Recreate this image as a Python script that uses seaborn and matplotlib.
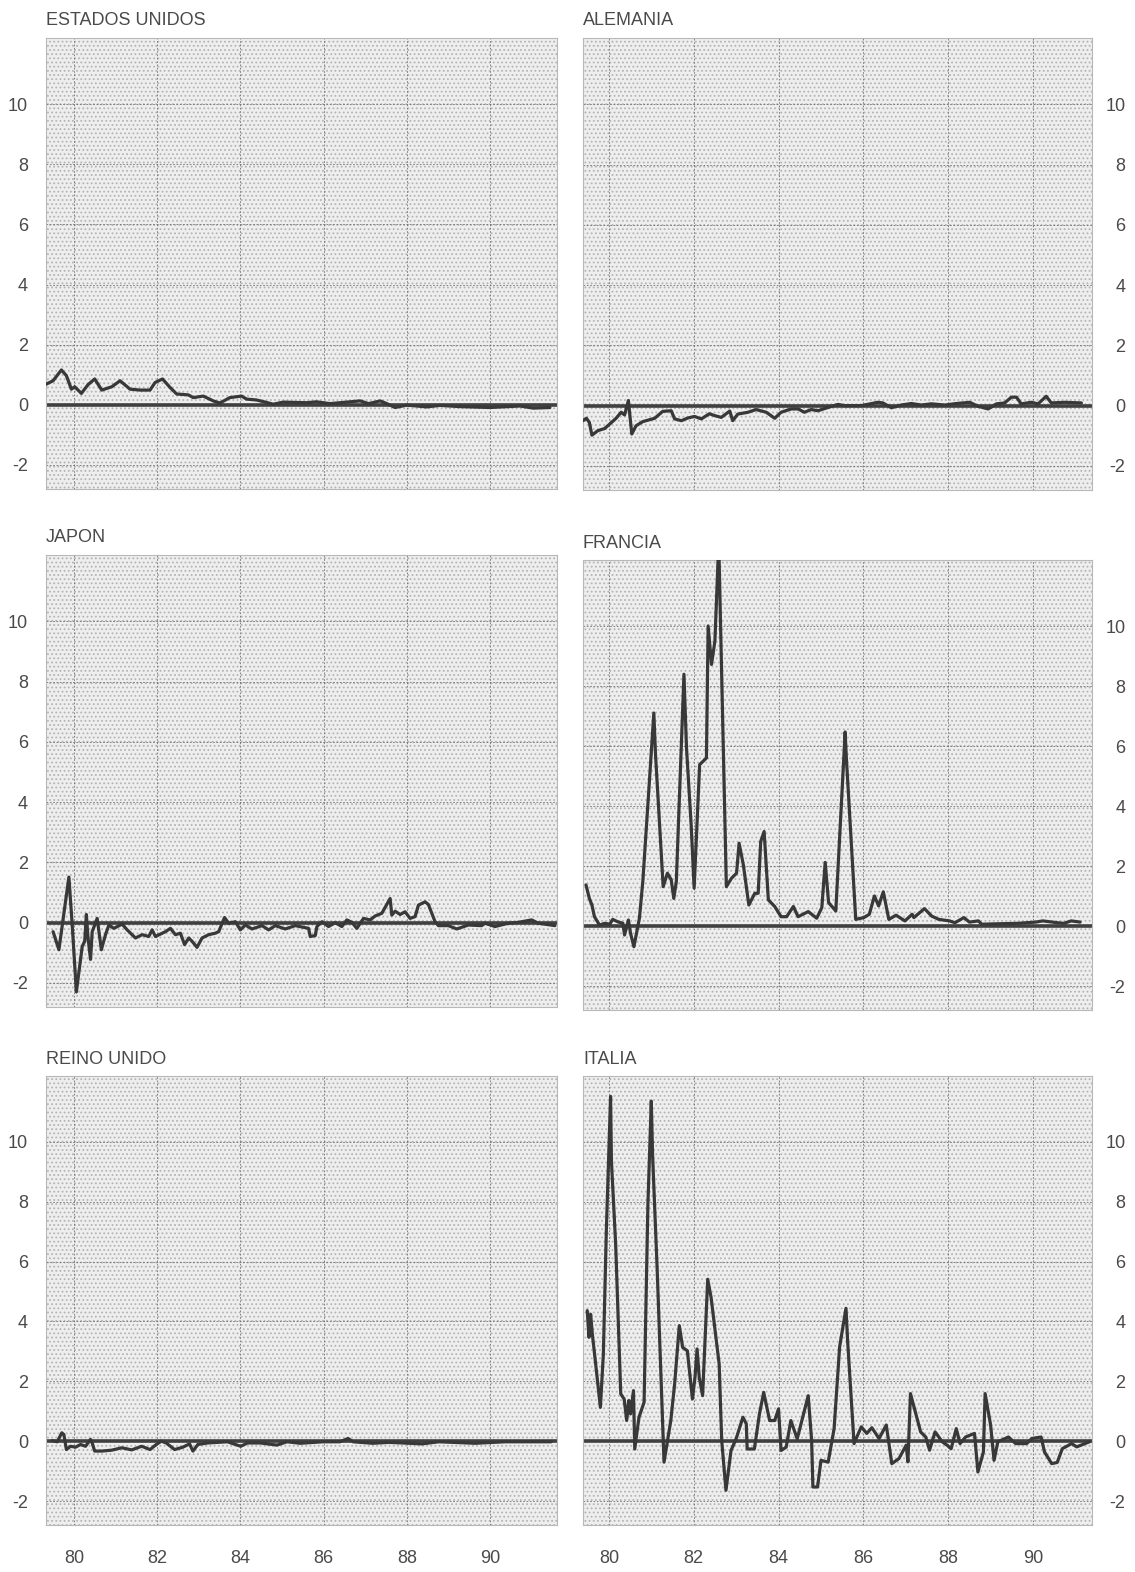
import numpy as np
import pandas as pd
import seaborn as sns
import matplotlib.pyplot as plt
from matplotlib.patches import Rectangle

# values (year as 79.5 = mid 1979, value in %)
us_year = [79.34, 79.50, 79.70, 79.82, 79.94, 80.02, 80.18, 80.34, 80.50, 80.67, 80.91, 81.11,
           81.35, 81.59, 81.83, 81.95, 82.13, 82.31, 82.47, 82.75, 82.87, 83.11, 83.35, 83.51,
           83.75, 84.03, 84.15, 84.39, 84.63, 84.79, 85.03, 85.59, 85.83, 86.15, 86.88, 87.08,
           87.36, 87.52, 87.72, 88.00, 88.48, 88.80, 89.28, 90.00, 90.72, 91.04, 91.44]
us_val = [0.69, 0.80, 1.16, 0.97, 0.52, 0.60, 0.38, 0.67, 0.86, 0.49, 0.60, 0.80,
          0.52, 0.49, 0.49, 0.74, 0.86, 0.58, 0.36, 0.33, 0.24, 0.29, 0.13, 0.06,
          0.24, 0.29, 0.19, 0.16, 0.08, 0.02, 0.09, 0.07, 0.10, 0.04, 0.13, 0.04,
          0.13, 0.04, -0.09, -0.01, -0.07, -0.02, -0.06, -0.09, -0.04, -0.11, -0.09]

de_year = [79.39, 79.47, 79.54, 79.60, 79.74, 79.90, 80.06, 80.17, 80.29, 80.37, 80.46, 80.54,
           80.64, 80.80, 81.08, 81.27, 81.47, 81.55, 81.71, 81.86, 82.02, 82.18, 82.37, 82.49,
           82.65, 82.85, 82.92, 83.04, 83.28, 83.47, 83.71, 83.91, 84.06, 84.30, 84.46, 84.61,
           84.77, 84.93, 85.17, 85.40, 85.56, 85.95, 86.34, 86.46, 86.66, 86.89, 87.13, 87.37,
           87.60, 87.92, 88.19, 88.51, 88.70, 88.94, 89.14, 89.33, 89.49, 89.61, 89.72, 89.96,
           90.12, 90.31, 90.43, 90.75, 91.14]
de_val = [-0.50, -0.42, -0.56, -0.98, -0.83, -0.76, -0.56, -0.42, -0.22, -0.31, 0.17, -0.94,
          -0.67, -0.53, -0.42, -0.19, -0.17, -0.44, -0.50, -0.41, -0.36, -0.44, -0.27, -0.33,
          -0.39, -0.18, -0.50, -0.28, -0.22, -0.13, -0.22, -0.42, -0.22, -0.11, -0.11, -0.22,
          -0.13, -0.17, -0.06, 0.04, 0.00, 0.00, 0.11, 0.09, -0.07, 0.02, 0.07, 0.02,
          0.06, 0.02, 0.07, 0.11, -0.02, -0.11, 0.06, 0.09, 0.28, 0.28, 0.06, 0.11,
          0.06, 0.31, 0.09, 0.11, 0.09]

jp_year = [79.50, 79.64, 79.88, 79.96, 80.06, 80.20, 80.26, 80.30, 80.34, 80.40, 80.44, 80.56,
           80.66, 80.76, 80.84, 80.96, 81.16, 81.28, 81.48, 81.64, 81.80, 81.88, 81.96, 82.20,
           82.32, 82.44, 82.56, 82.66, 82.76, 82.84, 82.96, 83.08, 83.24, 83.40, 83.48, 83.62,
           83.72, 83.88, 84.00, 84.12, 84.28, 84.52, 84.68, 84.84, 85.08, 85.32, 85.64, 85.68,
           85.80, 85.84, 85.96, 86.12, 86.28, 86.44, 86.56, 86.68, 86.80, 86.96, 87.12, 87.24,
           87.40, 87.60, 87.64, 87.72, 87.84, 87.96, 88.08, 88.20, 88.28, 88.44, 88.52, 88.68,
           88.76, 89.00, 89.20, 89.48, 89.80, 89.88, 90.12, 90.44, 90.68, 91.00, 91.16, 91.56]
jp_val = [-0.30, -0.90, 1.51, -0.08, -2.30, -0.79, -0.62, 0.27, -0.51, -1.22, -0.30, 0.14,
          -0.90, -0.40, -0.08, -0.19, -0.05, -0.24, -0.51, -0.40, -0.46, -0.24, -0.46, -0.30,
          -0.19, -0.40, -0.35, -0.73, -0.51, -0.62, -0.82, -0.51, -0.40, -0.35, -0.30, 0.17,
          -0.02, 0.03, -0.24, -0.08, -0.21, -0.10, -0.24, -0.10, -0.21, -0.10, -0.19, -0.46,
          -0.43, -0.13, 0.03, -0.13, 0.00, -0.13, 0.09, 0.01, -0.19, 0.14, 0.09, 0.22,
          0.31, 0.80, 0.25, 0.38, 0.27, 0.36, 0.14, 0.20, 0.58, 0.69, 0.60, 0.03,
          -0.10, -0.10, -0.21, -0.08, -0.10, -0.02, -0.13, -0.02, 0.01, 0.09, -0.02, -0.10]

fr_year = [79.46, 79.54, 79.60, 79.66, 79.78, 79.90, 80.02, 80.09, 80.21, 80.33, 80.37, 80.46,
           80.51, 80.59, 80.72, 80.80, 80.94, 81.06, 81.10, 81.28, 81.38, 81.47, 81.53, 81.59,
           81.77, 81.83, 81.94, 82.01, 82.14, 82.30, 82.34, 82.42, 82.50, 82.59, 82.77, 82.89,
           83.01, 83.07, 83.17, 83.30, 83.44, 83.52, 83.58, 83.66, 83.76, 83.91, 84.06, 84.19,
           84.35, 84.46, 84.70, 84.90, 85.02, 85.10, 85.18, 85.35, 85.57, 85.60, 85.82, 86.01,
           86.14, 86.26, 86.36, 86.47, 86.60, 86.77, 86.98, 87.15, 87.19, 87.44, 87.61, 87.78,
           88.03, 88.16, 88.37, 88.50, 88.71, 88.79, 89.64, 90.06, 90.23, 90.57, 90.73, 90.90,
           91.11]
fr_val = [1.37, 0.92, 0.70, 0.31, 0.03, 0.09, 0.06, 0.22, 0.14, 0.09, -0.30, 0.20,
          -0.24, -0.69, 0.26, 1.48, 4.49, 7.10, 5.71, 1.31, 1.76, 1.54, 0.92, 1.48,
          8.39, 5.94, 3.37, 1.26, 5.38, 5.60, 10.00, 8.72, 9.50, 12.80, 1.31, 1.59,
          1.76, 2.76, 2.04, 0.70, 1.09, 1.09, 2.82, 3.15, 0.87, 0.65, 0.31, 0.31,
          0.65, 0.31, 0.48, 0.26, 0.61, 2.12, 0.78, 0.50, 6.47, 5.57, 0.22, 0.28,
          0.39, 1.00, 0.67, 1.14, 0.22, 0.36, 0.17, 0.39, 0.28, 0.58, 0.33, 0.22,
          0.17, 0.11, 0.28, 0.13, 0.17, 0.06, 0.09, 0.13, 0.17, 0.11, 0.09, 0.17,
          0.13]

uk_year = [79.48, 79.60, 79.71, 79.76, 79.82, 79.92, 80.04, 80.16, 80.28, 80.40, 80.44, 80.50,
           80.67, 80.91, 81.15, 81.39, 81.63, 81.83, 81.98, 82.10, 82.22, 82.42, 82.62, 82.78,
           82.86, 82.98, 83.21, 83.69, 84.01, 84.17, 84.48, 84.88, 85.12, 85.44, 85.99, 86.39,
           86.59, 86.71, 87.18, 87.58, 88.37, 88.77, 89.64, 90.36, 91.47]
uk_val = [0.02, -0.02, 0.28, 0.22, -0.28, -0.17, -0.20, -0.11, -0.17, 0.06, -0.06, -0.33,
          -0.33, -0.30, -0.22, -0.29, -0.17, -0.28, -0.11, 0.00, -0.06, -0.28, -0.20, -0.09,
          -0.33, -0.11, -0.06, -0.02, -0.17, -0.06, -0.06, -0.13, -0.02, -0.07, -0.02, -0.02,
          0.09, -0.02, -0.07, -0.04, -0.09, -0.02, -0.07, -0.02, -0.02]

it_year = [79.49, 79.53, 79.57, 79.61, 79.68, 79.80, 79.87, 79.94, 80.04, 80.06, 80.16, 80.28,
           80.36, 80.42, 80.47, 80.51, 80.58, 80.61, 80.71, 80.83, 80.92, 81.00, 81.03, 81.14,
           81.30, 81.46, 81.55, 81.66, 81.74, 81.85, 81.97, 82.03, 82.08, 82.13, 82.21, 82.33,
           82.41, 82.60, 82.66, 82.76, 82.88, 83.00, 83.16, 83.24, 83.26, 83.43, 83.55, 83.65,
           83.79, 83.91, 84.00, 84.06, 84.18, 84.29, 84.44, 84.70, 84.78, 84.81, 84.92, 85.00,
           85.17, 85.31, 85.44, 85.59, 85.63, 85.78, 85.95, 86.08, 86.20, 86.37, 86.54, 86.67,
           86.84, 87.01, 87.05, 87.11, 87.35, 87.47, 87.56, 87.69, 87.86, 87.97, 88.07, 88.19,
           88.28, 88.41, 88.62, 88.70, 88.83, 88.87, 89.00, 89.08, 89.17, 89.42, 89.59, 89.85,
           89.97, 90.19, 90.27, 90.44, 90.57, 90.69, 90.91, 91.03, 91.33]
it_val = [4.36, 3.47, 4.24, 3.58, 2.69, 1.13, 2.91, 7.02, 11.52, 9.36, 6.58, 1.58,
          1.41, 0.69, 1.36, 0.91, 1.69, -0.26, 0.80, 1.30, 7.91, 11.36, 9.58, 5.69,
          -0.70, 0.69, 1.91, 3.86, 3.13, 3.02, 1.41, 2.13, 3.08, 2.13, 1.52, 5.41,
          4.80, 2.58, 0.02, -1.64, -0.31, 0.08, 0.80, 0.58, -0.26, -0.26, 0.91, 1.63,
          0.69, 0.69, 1.08, -0.31, -0.20, 0.69, 0.08, 1.52, 0.02, -1.53, -1.53, -0.64,
          -0.70, 0.42, 3.15, 4.44, 3.32, -0.08, 0.48, 0.26, 0.45, 0.09, 0.54, -0.75,
          -0.58, -0.13, -0.69, 1.59, 0.31, 0.14, -0.30, 0.31, -0.02, -0.13, -0.25, 0.42,
          -0.08, 0.14, 0.26, -1.03, -0.36, 1.59, 0.54, -0.64, -0.02, 0.14, -0.08, -0.08,
          0.09, 0.14, -0.36, -0.75, -0.71, -0.25, -0.08, -0.19, -0.02]

panels = [
    ("ESTADOS UNIDOS", us_year, us_val),
    ("ALEMANIA", de_year, de_val),
    ("JAPON", jp_year, jp_val),
    ("FRANCIA", fr_year, fr_val),
    ("REINO UNIDO", uk_year, uk_val),
    ("ITALIA", it_year, it_val),
]

year_ticks = [80, 82, 84, 86, 88, 90]
year_labels = ["80", "82", "84", "86", "88", "90"]
val_ticks = [-2, 0, 2, 4, 6, 8, 10]
val_labels = ["-2", "0", "2", "4", "6", "8", "10"]

sns.set_theme(style="white")
plt.rcParams["font.family"] = ["Liberation Sans", "DejaVu Sans"]
plt.rcParams["hatch.color"] = "#b4b4b4"
plt.rcParams["hatch.linewidth"] = 0.8

W, H = 1135, 1572
fig = plt.figure(figsize=(W / 100, H / 100), dpi=100)
fig.patch.set_facecolor("white")

# panel frames in pixels: (left, top, right, bottom)
boxes = [
    (46, 38, 557, 489), (583, 38, 1092, 490),
    (46, 555, 557, 1007), (583, 560, 1092, 1010),
    (46, 1076, 557, 1525), (583, 1076, 1092, 1525),
]
xlims = [(79.33, 91.61), (79.39, 91.39)]
txt = "#4a4a4a"
line_c = "#383838"

for i, (name, yrs, vals) in enumerate(panels):
    l, t, r, b = boxes[i]
    ax = fig.add_axes([l / W, 1 - b / H, (r - l) / W, (b - t) / H])
    col = i % 2
    row = i // 2
    ax.set_facecolor("#eeeeee")
    ax.add_patch(Rectangle((0, 0), 1, 1, transform=ax.transAxes, facecolor="none",
                           edgecolor="#b4b4b4", hatch="....", lw=0, zorder=0))
    df = pd.DataFrame({"year": yrs, "val": vals})
    ax.axhline(0, color="#404040", lw=2.6, zorder=2)
    sns.lineplot(data=df, x="year", y="val", ax=ax, color=line_c, lw=2.3,
                 sort=False, estimator=None, zorder=3)
    ax.set_xlim(*xlims[col])
    ax.set_ylim(-2.8, 12.2)
    ax.set_xticks(year_ticks)
    ax.set_yticks(val_ticks)
    ax.set_axisbelow(True)
    ax.grid(True, color="#707070", linestyle=(0, (2, 2)), linewidth=0.6)
    for s in ax.spines.values():
        s.set_color("#b8b8b8")
        s.set_linewidth(0.8)
    ax.set_xlabel("")
    ax.set_ylabel("")
    if row == 2:
        ax.set_xticklabels(year_labels)
    else:
        ax.set_xticklabels([])
    ax.tick_params(axis="x", length=0, pad=18, labelsize=13, labelcolor=txt)
    if col == 0:
        ax.set_yticklabels(val_labels)
        ax.tick_params(axis="y", length=0, pad=13, labelsize=13, labelcolor=txt)
    else:
        ax.yaxis.tick_right()
        ax.set_yticklabels(val_labels)
        ax.tick_params(axis="y", length=0, pad=24, labelsize=13, labelcolor=txt)
        for lab in ax.get_yticklabels():
            lab.set_horizontalalignment("right")
    ax.set_title(name, loc="left", pad=9, fontsize=13, color=txt)

fig.savefig("out.png", dpi=100)
